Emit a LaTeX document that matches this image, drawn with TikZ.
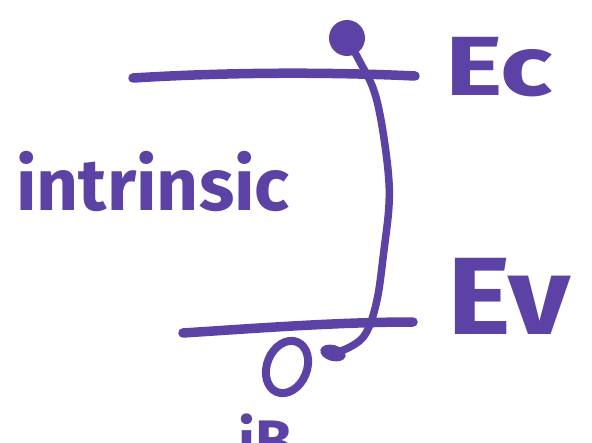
\documentclass[tikz,border=0pt]{standalone}
\usepackage{fontspec}
\setmainfont{Fira Sans}
\definecolor{pen}{RGB}{92,66,164}
\begin{document}
\begin{tikzpicture}[x=1pt,y=-1pt,
  stroke/.style={draw=pen, line width=9.5pt, line cap=round, line join=round},
  lbl/.style={text=pen, font=\bfseries, inner sep=0pt}]
\useasboundingbox (0,0) rectangle (592,442);
\clip (0,0) rectangle (592,442);
% conduction band edge
\coordinate (ecL) at (133,78);
\coordinate (ecR) at (415,76);
\draw[stroke] (ecL) .. controls (230,72) and (330,72) .. (ecR);
% valence band edge
\coordinate (evL) at (183,333);
\coordinate (evR) at (413,322);
\draw[stroke] (evL) .. controls (260,328) and (340,322) .. (evR);
% electron
\node[circle, fill=pen, minimum size=36pt, inner sep=0pt] (el) at (347,38) {};
\coordinate (hb) at (328,355);
\draw[stroke, line width=7.5pt] plot[smooth, tension=0.6] coordinates {(el.center) (360,62) (373,88) (381,120) (388,170) (389,205) (384,250) (377,300) (366,333) (350,347) (hb)};
\fill[pen, rotate around={-15:(333,353)}] (333,353) ellipse (13pt and 8pt);
% hole
\draw[stroke, line width=8pt, rotate around={-22:(287,367)}] (287,367) ellipse (20pt and 27pt);
% labels
\node[lbl, anchor=base west, font=\bfseries\fontsize{73}{80}\selectfont] (intr) at (16,210) {intrinsic};
\node[lbl, anchor=base west, xscale=1.3, font=\bfseries\fontsize{84}{90}\selectfont] (ec) at (445,95) {Ec};
\node[lbl, anchor=base west, xscale=1.1, font=\bfseries\fontsize{110}{120}\selectfont] (ev) at (447,334) {Ev};
\node[lbl, anchor=base west, font=\bfseries\fontsize{60}{66}\selectfont] (ib) at (238,462) {iB};
\end{tikzpicture}
\end{document}
